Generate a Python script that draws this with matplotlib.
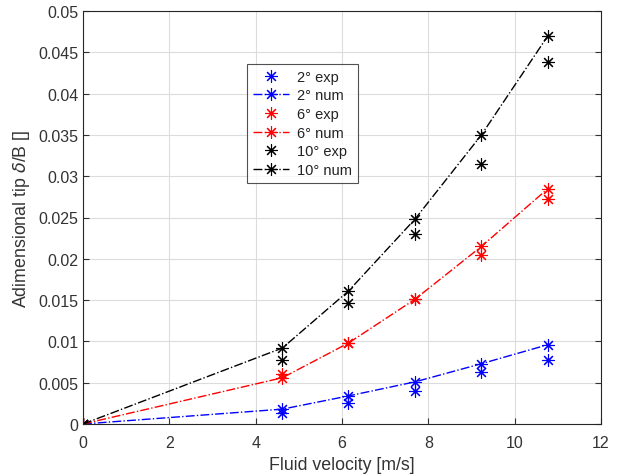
import matplotlib
matplotlib.use('Agg')
import matplotlib.pyplot as plt

plt.rcParams['font.family'] = ['Liberation Sans', 'DejaVu Sans']

# fluid velocity [m/s]
velocity = [0, 4.62, 6.15, 7.69, 9.23, 10.77]

# adimensional tip deflection
exp_2 = [0, 0.0013, 0.0025, 0.0040, 0.0063, 0.0077]
num_2 = [0, 0.0018, 0.0034, 0.0051, 0.0073, 0.0096]
exp_6 = [0, 0.0060, 0.0098, 0.0151, 0.0205, 0.0273]
num_6 = [0, 0.0056, 0.0098, 0.0151, 0.0215, 0.0285]
exp_10 = [0, 0.0077, 0.0146, 0.0230, 0.0315, 0.0438]
num_10 = [0, 0.0092, 0.0161, 0.0248, 0.0350, 0.0470]

series = [
    ('2° exp', exp_2, 'b', 'none'),
    ('2° num', num_2, 'b', '-.'),
    ('6° exp', exp_6, 'r', 'none'),
    ('6° num', num_6, 'r', '-.'),
    ('10° exp', exp_10, 'k', 'none'),
    ('10° num', num_10, 'k', '-.'),
]

fig = plt.figure(figsize=(6.2, 4.77), dpi=100)
ax = fig.add_axes([83/620, 1 - 425/477, 518/620, 413/477])

for label, vals, col, ls in series:
    ax.plot(velocity, vals, color=col, linestyle=ls, linewidth=1.0,
            marker=(8, 2, 0), markersize=9, markeredgewidth=0.8, label=label)

ax.set_xlim(0, 12)
ax.set_ylim(0, 0.05)
ax.set_xticks(range(0, 13, 2))
ax.set_yticks([i * 0.005 for i in range(11)])
ax.set_yticklabels(['0', '0.005', '0.01', '0.015', '0.02', '0.025', '0.03',
                    '0.035', '0.04', '0.045', '0.05'])
ax.grid(True, color='#dcdcdc', linewidth=0.8)
ax.set_axisbelow(True)
ax.tick_params(direction='in', labelsize=11.5, colors='#333333', length=4,
               top=False, right=True)
ax.tick_params(axis='x', pad=8)
for sp in ax.spines.values():
    sp.set_color('#262626')
    sp.set_linewidth(0.8)

ax.set_xlabel('Fluid velocity [m/s]', fontsize=12.8, color='#333333', labelpad=4)
ax.set_ylabel(r'Adimensional tip $\delta$/B []', fontsize=12.8, color='#333333')

leg = ax.legend(loc='upper left', bbox_to_anchor=(0.317, 0.872), fontsize=10.5,
                frameon=True, fancybox=False, edgecolor='#262626',
                handlelength=2.5, borderpad=0.4, labelspacing=0.32,
                handletextpad=0.5, borderaxespad=0)
leg.get_frame().set_linewidth(0.8)
for t in leg.get_texts():
    t.set_color('#222222')

plt.savefig('out.png', dpi=100)
